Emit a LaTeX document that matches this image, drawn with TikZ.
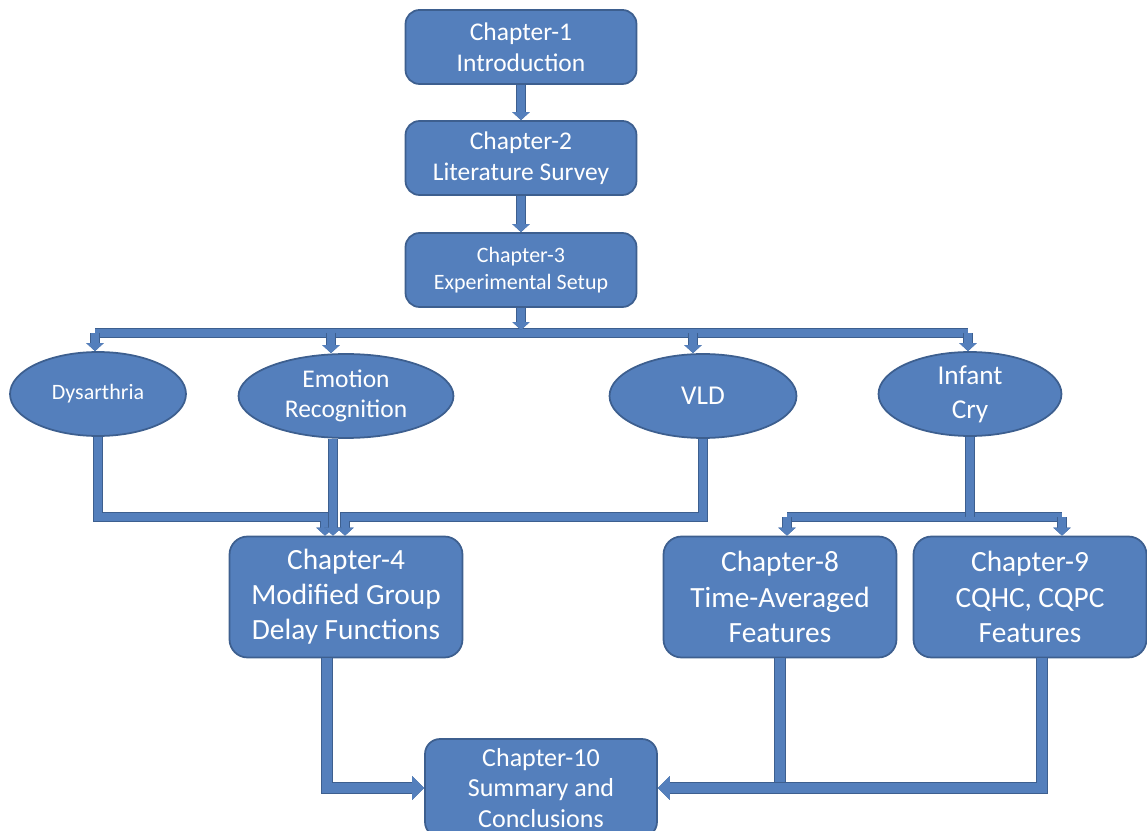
\documentclass[tikz,border=0pt]{standalone}
\usepackage{fontspec}
\setmainfont{Carlito}
\usetikzlibrary{arrows.meta,shapes.geometric}
\definecolor{boxfill}{RGB}{84,127,188}
\definecolor{boxline}{RGB}{61,95,143}

\begin{document}
\begin{tikzpicture}[x=0.02cm,y=-0.02cm,
    chap/.style={draw=boxline, fill=boxfill, line width=1pt, rounded corners=0.28cm,
      text=white, align=center, inner sep=0pt, minimum width=4.62cm, minimum height=1.48cm,
      font=\fontsize{14.5}{17.6}\selectfont},
    bigchap/.style={chap, minimum width=4.66cm, minimum height=2.42cm, rounded corners=0.36cm,
      font=\fontsize{16.7}{20}\selectfont},
    topic/.style={ellipse, draw=boxline, fill=boxfill, line width=1pt, text=white,
      align=center, inner sep=0pt, minimum height=1.68cm},
    flow/.style={boxfill, line width=4.6pt, line join=miter,
      preaction={draw=boxline, line width=6pt},
      -{Triangle[length=0.16cm,width=0.34cm]}},
    bar/.style={flow, -},
    wideflow/.style={boxfill, line width=5.8pt, line join=miter,
      preaction={draw=boxline, line width=7.2pt},
      -{Triangle[length=0.24cm,width=0.46cm]}},
    widebar/.style={wideflow, -}]
  \useasboundingbox (0,0) rectangle (1147,831);
  \clip (0,0) rectangle (1147,831);

  % chapters in a row
  \node[chap] (ch1) at (521,47) {Chapter-1\\Introduction};
  \node[chap] (ch2) at (521,158) {Chapter-2\\Literature Survey};
  \node[chap, font=\fontsize{12.5}{15.3}\selectfont] (ch3) at (521,270) {Chapter-3\\Experimental Setup};

  % applications
  \node[topic, minimum width=3.52cm, font=\fontsize{12.5}{15}\selectfont] (dys) at (98,394) {Dysarthria};
  \node[topic, minimum width=4.3cm, font=\fontsize{14.5}{17.2}\selectfont] (emo) at (346,396) {Emotion\\Recognition};
  \node[topic, minimum width=3.74cm, font=\fontsize{15.5}{19}\selectfont] (vld) at (703,396) {VLD};
  \node[topic, minimum width=3.66cm, font=\fontsize{15.5}{19.3}\selectfont] (cry) at (970,394) {Infant\\Cry};

  % contributions
  \node[bigchap] (ch4) at (346,597) {Chapter-4\\Modified Group\\Delay Functions};
  \node[bigchap] (ch8) at (780,597) {Chapter-8\\Time-Averaged\\Features};
  \node[bigchap] (ch9) at (1030,597) {Chapter-9\\CQHC, CQPC\\Features};
  \node[chap, minimum width=4.64cm, minimum height=1.96cm, rounded corners=0.3cm,
    font=\fontsize{14.8}{17.4}\selectfont] (ch10) at (541,788) {Chapter-10\\Summary and\\Conclusions};

  \coordinate (tap) at (521,330);
  \coordinate (busA) at (95,333);
  \coordinate (busB) at (331,333);
  \coordinate (busC) at (693,333);
  \coordinate (busD) at (968,333);
  \coordinate (m4a) at (325,517);
  \coordinate (m4c) at (345,517);
  \coordinate (m8) at (787,517);
  \coordinate (m9) at (1062,517);

  \draw[flow] (ch1) -- (ch2);
  \draw[flow] (ch2) -- (ch3);
  \draw[bar] (busA) -- (busD);
  \draw[flow] (ch3) -- (tap);
  \draw[flow] (busA) -- (busA |- dys.north);
  \draw[flow] (busB) -- (busB |- emo.north);
  \draw[flow] (busC) -- (busC |- vld.north);
  \draw[flow] (busD) -- (busD |- cry.north);

  \draw[flow] (dys.south) |- (m4a) -- (m4a |- ch4.north);
  \draw[flow] (vld.south) |- (m4c) -- (m4c |- ch4.north);
  \draw[flow] ([xshift=-0.26cm]emo.south) -- ([xshift=-0.26cm]emo.south |- ch4.north);
  \draw[bar] (m8) -- (m9);
  \draw[bar] (cry.south) -- (cry.south |- m8);
  \draw[flow] (m8) -- (m8 |- ch8.north);
  \draw[flow] (m9) -- (m9 |- ch9.north);

  \draw[widebar] (ch8.south) -- (ch8.south |- ch10.east);
  \draw[wideflow] ([xshift=0.24cm]ch9.south) |- (ch10.east);
  \draw[wideflow] ([xshift=-0.38cm]ch4.south) |- (ch10.west);
\end{tikzpicture}
\end{document}
